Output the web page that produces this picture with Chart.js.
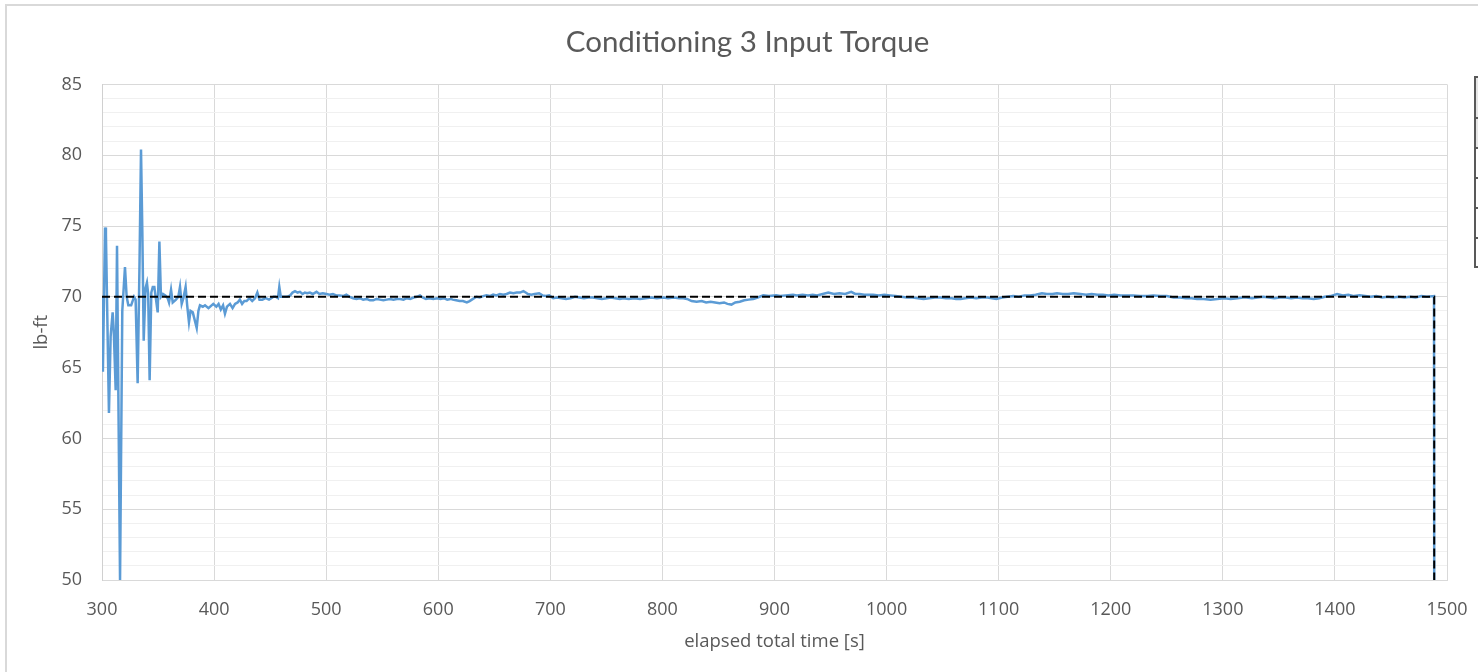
<!DOCTYPE html>
<html>
<head>
<meta charset="utf-8">
<script src="https://cdn.jsdelivr.net/npm/chart.js@4.4.1/dist/chart.umd.min.js"></script>
<style>
  html, body { margin: 0; padding: 0; background: #ffffff; overflow: hidden; }
  #frame { position: absolute; left: 5px; top: 4px; width: 1600px; height: 800px; border: 2px solid #d9d9d9; box-sizing: border-box; }
  #cv { position: absolute; left: 0; top: 0; }
  #frag { position: absolute; left: 1474px; top: 76px; width: 30px; height: 192px; border: 2px solid #595959; box-sizing: border-box; }
  .row { position: absolute; left: 0; width: 100%; border-bottom: 2px solid #595959; box-sizing: border-box; }
</style>
</head>
<body>
<div id="frame"></div>
<div id="frag">
  <div class="row" style="top:0;height:41px;background:#e6e6e6"></div>
  <div class="row" style="top:41px;height:30px;background:#e6e6e6"></div>
  <div class="row" style="top:71px;height:30px;"></div>
  <div class="row" style="top:101px;height:30px;"></div>
  <div class="row" style="top:131px;height:30px;"></div>
</div>
<canvas id="cv" width="1478" height="672"></canvas>
<script>
// ---- data ----
const chartTitle = "Conditioning 3 Input Torque";
const xAxisTitle = "elapsed total time [s]";
const yAxisTitle = "lb-ft";

const timeS = [
  300.0, 300.8, 302.7, 303.5, 306.2, 307.7, 309.5, 310.5, 312.2, 313.4,
  316.1, 318.1, 320.5, 322.0, 323.5, 326.0, 328.6, 330.0, 331.8, 333.5,
  334.8, 336.0, 337.2, 338.8, 340.1, 341.2, 342.5, 344.0, 345.3, 346.7,
  348.2, 349.7, 351.2, 352.6, 354.4, 356.5, 358.6, 359.8, 361.6, 363.1,
  366.0, 368.1, 369.6, 371.1, 372.6, 374.6, 376.0, 377.6, 379.0, 381.0,
  384.5, 386.0, 387.4, 390.0, 391.9, 395.0, 399.3, 402.0, 404.0, 406.0,
  408.0, 409.7, 411.5, 414.2, 416.5, 418.7, 421.0, 423.0, 425.0, 427.0,
  429.0, 431.5, 434.0, 436.5, 438.6, 440.5, 443.0, 446.0, 449.0, 451.0,
  453.0, 455.0, 457.0, 458.2, 459.5, 462.0, 465.0, 468.0, 470.0, 472.2,
  474.5, 476.6, 479.0, 481.0, 483.0, 485.5, 488.0, 491.4, 494.0, 497.0,
  500.3, 503.0, 506.0, 509.0, 512.0, 515.0, 518.0, 521.0, 524.0, 527.0,
  530.0, 533.0, 536.0, 539.0, 542.0, 545.0, 548.0, 551.0, 554.0, 557.0,
  560.0, 563.0, 566.0, 569.0, 572.0, 575.0, 578.0, 581.0, 583.7, 586.0,
  589.0, 592.0, 595.6, 599.0, 602.0, 605.0, 608.0, 611.0, 613.0, 616.0,
  619.0, 622.0, 625.5, 628.0, 631.0, 634.0, 637.0, 640.0, 643.0, 646.0,
  649.0, 652.0, 655.0, 658.0, 661.0, 664.0, 667.0, 670.0, 673.0, 676.0,
  678.0, 680.0, 683.0, 686.0, 690.0, 693.0, 696.0, 699.0, 702.6, 706.0,
  710.0, 714.0, 718.0, 722.0, 726.0, 730.0, 734.0, 738.0, 742.0, 746.0,
  750.0, 754.0, 758.0, 762.0, 765.0, 770.0, 775.0, 780.0, 785.0, 790.0,
  795.0, 800.8, 805.0, 810.0, 815.0, 818.6, 822.0, 826.0, 830.5, 835.0,
  839.0, 843.0, 847.0, 851.0, 855.0, 858.0, 861.6, 865.0, 869.0, 873.0,
  877.0, 881.0, 885.0, 890.0, 895.0, 901.6, 905.0, 910.0, 916.5, 920.0,
  925.0, 930.0, 934.0, 938.0, 943.0, 948.0, 953.0, 958.0, 963.0, 968.5,
  972.0, 976.0, 980.0, 984.0, 988.0, 993.0, 998.0, 1003.0, 1008.0, 1013.0,
  1018.0, 1023.0, 1028.0, 1033.0, 1038.0, 1043.0, 1048.0, 1053.0, 1058.0, 1062.0,
  1066.0, 1070.0, 1075.0, 1080.0, 1085.0, 1090.0, 1094.0, 1098.0, 1103.0, 1108.0,
  1113.0, 1118.0, 1123.0, 1128.0, 1133.0, 1138.6, 1143.0, 1148.0, 1152.0, 1157.0,
  1162.0, 1167.0, 1173.0, 1178.0, 1183.0, 1188.0, 1193.0, 1198.0, 1203.0, 1209.0,
  1214.0, 1220.0, 1226.0, 1233.0, 1238.0, 1244.0, 1250.0, 1256.0, 1262.0, 1267.0,
  1272.0, 1277.0, 1283.0, 1289.0, 1295.0, 1301.0, 1307.0, 1313.0, 1318.0, 1321.0,
  1326.0, 1331.0, 1336.0, 1341.0, 1346.0, 1351.0, 1356.0, 1361.0, 1366.0, 1371.0,
  1376.0, 1381.0, 1386.0, 1391.0, 1396.0, 1402.0, 1407.0, 1412.0, 1417.0, 1422.0,
  1427.0, 1432.0, 1437.0, 1442.0, 1447.0, 1452.0, 1457.0, 1462.0, 1467.0, 1472.0,
  1477.0, 1482.0, 1488.4, 1488.6
];

const torqueLbFt = [
  70.0, 64.7, 74.9, 74.4, 61.8, 67.2, 68.9, 67.6, 63.4, 73.6,
  50.0, 69.0, 72.1, 70.0, 69.4, 69.4, 70.0, 69.8, 63.9, 72.5,
  80.4, 74.5, 66.9, 70.6, 71.0, 70.2, 64.1, 70.3, 70.7, 70.7,
  69.8, 68.9, 73.9, 70.0, 70.2, 70.1, 69.9, 69.6, 70.5, 69.6,
  69.8, 70.0, 70.7, 69.5, 69.9, 70.7, 69.4, 68.2, 69.0, 68.9,
  67.8, 69.0, 69.4, 69.3, 69.4, 69.2, 69.5, 69.3, 69.5, 69.1,
  69.4, 68.8, 69.3, 69.5, 69.2, 69.5, 69.6, 69.8, 69.5, 69.7,
  69.7, 69.9, 69.7, 69.9, 70.3, 69.8, 69.8, 69.9, 69.8, 69.9,
  70.0, 70.0, 69.9, 70.7, 70.0, 70.0, 70.0, 70.1, 70.3, 70.4,
  70.3, 70.35, 70.2, 70.3, 70.25, 70.3, 70.2, 70.35, 70.2, 70.25,
  70.2, 70.15, 70.2, 70.1, 70.1, 70.05, 70.15, 70.0, 69.9, 69.85,
  69.9, 69.8, 69.85, 69.75, 69.75, 69.85, 69.8, 69.75, 69.8, 69.85,
  69.8, 69.85, 69.85, 69.8, 69.9, 69.85, 69.95, 70.0, 70.1, 69.95,
  69.85, 69.9, 69.85, 69.9, 69.85, 69.9, 69.8, 69.85, 69.8, 69.75,
  69.7, 69.7, 69.6, 69.7, 69.85, 70.0, 69.95, 70.05, 70.1, 70.05,
  70.15, 70.1, 70.2, 70.15, 70.2, 70.3, 70.25, 70.3, 70.3, 70.4,
  70.3, 70.2, 70.15, 70.2, 70.25, 70.1, 70.05, 70.1, 69.9, 69.95,
  69.9, 69.85, 69.9, 70.0, 69.95, 69.9, 69.95, 69.95, 69.9, 69.85,
  69.9, 69.95, 69.9, 69.85, 69.9, 69.85, 69.9, 69.85, 69.9, 69.95,
  69.9, 69.95, 69.9, 69.95, 69.9, 69.9, 69.85, 69.7, 69.65, 69.7,
  69.6, 69.65, 69.6, 69.55, 69.6, 69.5, 69.45, 69.6, 69.65, 69.75,
  69.8, 69.85, 69.95, 70.1, 70.05, 70.1, 70.05, 70.1, 70.15, 70.1,
  70.15, 70.1, 70.15, 70.1, 70.2, 70.3, 70.2, 70.25, 70.2, 70.35,
  70.2, 70.2, 70.15, 70.15, 70.15, 70.1, 70.15, 70.1, 70.05, 70.0,
  69.95, 69.95, 69.9, 69.85, 69.9, 69.95, 69.95, 69.9, 69.9, 69.85,
  69.85, 69.9, 69.95, 69.9, 69.95, 69.95, 69.9, 69.85, 69.95, 70.0,
  70.05, 70.0, 70.1, 70.1, 70.15, 70.25, 70.2, 70.2, 70.25, 70.2,
  70.2, 70.25, 70.2, 70.15, 70.2, 70.15, 70.15, 70.1, 70.15, 70.1,
  70.1, 70.1, 70.05, 70.05, 70.1, 70.05, 70.05, 69.95, 69.95, 69.9,
  69.9, 69.85, 69.85, 69.8, 69.85, 69.9, 69.85, 69.9, 69.95, 69.95,
  69.9, 69.95, 70.0, 69.95, 69.9, 69.95, 69.95, 69.9, 69.95, 69.9,
  69.9, 69.85, 69.9, 70.0, 70.05, 70.2, 70.1, 70.15, 70.05, 70.1,
  70.05, 70.0, 70.05, 69.95, 70.0, 69.95, 70.0, 69.95, 70.0, 69.95,
  70.05, 70.0, 70.05, 50.0
];

const targetTimeS = [300, 1488.6, 1488.6];
const targetTorque = [70, 70, 50];

const xMin = 300, xMax = 1500, xStep = 100;
const yMin = 50, yMax = 85, yStep = 1, yLabelEvery = 5;

// ---- chart ----
const toPoints = (xs, ys) => xs.map((x, i) => ({ x: x, y: ys[i] }));
const textColor = '#595959';

new Chart(document.getElementById('cv'), {
  type: 'line',
  data: {
    datasets: [
      {
        label: 'Target',
        data: toPoints(targetTimeS, targetTorque),
        borderColor: '#000000',
        borderWidth: 2,
        borderDash: [8, 4],
        pointRadius: 0,
        tension: 0,
        fill: false
      },
      {
        label: 'Input Torque',
        data: toPoints(timeS, torqueLbFt),
        borderColor: '#5b9bd5',
        borderWidth: 2.5,
        pointRadius: 0,
        tension: 0,
        fill: false
      }
    ]
  },
  options: {
    responsive: false,
    animation: false,
    devicePixelRatio: 1,
    layout: { padding: { left: 48, right: 31, top: 0, bottom: 0 } },
    plugins: {
      legend: { display: false },
      tooltip: { enabled: false },
      title: {
        display: true,
        text: chartTitle,
        color: textColor,
        font: { family: 'Lato', size: 29.5, weight: 'normal' },
        padding: { top: 25, bottom: 24 }
      }
    },
    scales: {
      x: {
        type: 'linear',
        min: xMin, max: xMax,
        ticks: {
          stepSize: xStep, color: textColor, font: { family: 'Open Sans', size: 18 }, padding: 19,
          maxRotation: 0, autoSkip: false,
          callback: (v) => String(v)
        },
        grid: { color: '#d9d9d9', drawTicks: false, lineWidth: 1 },
        border: { color: '#d9d9d9', width: 1 },
        title: { display: true, text: xAxisTitle, color: textColor, font: { family: 'Open Sans', size: 18.5 }, padding: { top: 0, bottom: 19 } },
        afterFit: (s) => { s.height = 92; s.paddingLeft = 0; s.paddingRight = 0; }
      },
      y: {
        type: 'linear',
        min: yMin, max: yMax,
        ticks: {
          stepSize: yStep, color: textColor, font: { family: 'Open Sans', size: 18 }, padding: 20,
          autoSkip: false,
          callback: (v) => (v % yLabelEvery === 0 ? String(v) : '')
        },
        grid: {
          drawTicks: false,
          color: (ctx) => (ctx.tick && ctx.tick.value % yLabelEvery === 0 ? '#d9d9d9' : '#f0f0f0'),
          lineWidth: 1
        },
        border: { color: '#d0d0d0', width: 1 },
        title: { display: true, text: yAxisTitle, color: textColor, font: { family: 'Open Sans', size: 18.5 }, padding: { top: -17, bottom: 0 } },
        afterFit: (s) => { s.width = 54; }
      }
    }
  }
});
</script>
</body>
</html>
